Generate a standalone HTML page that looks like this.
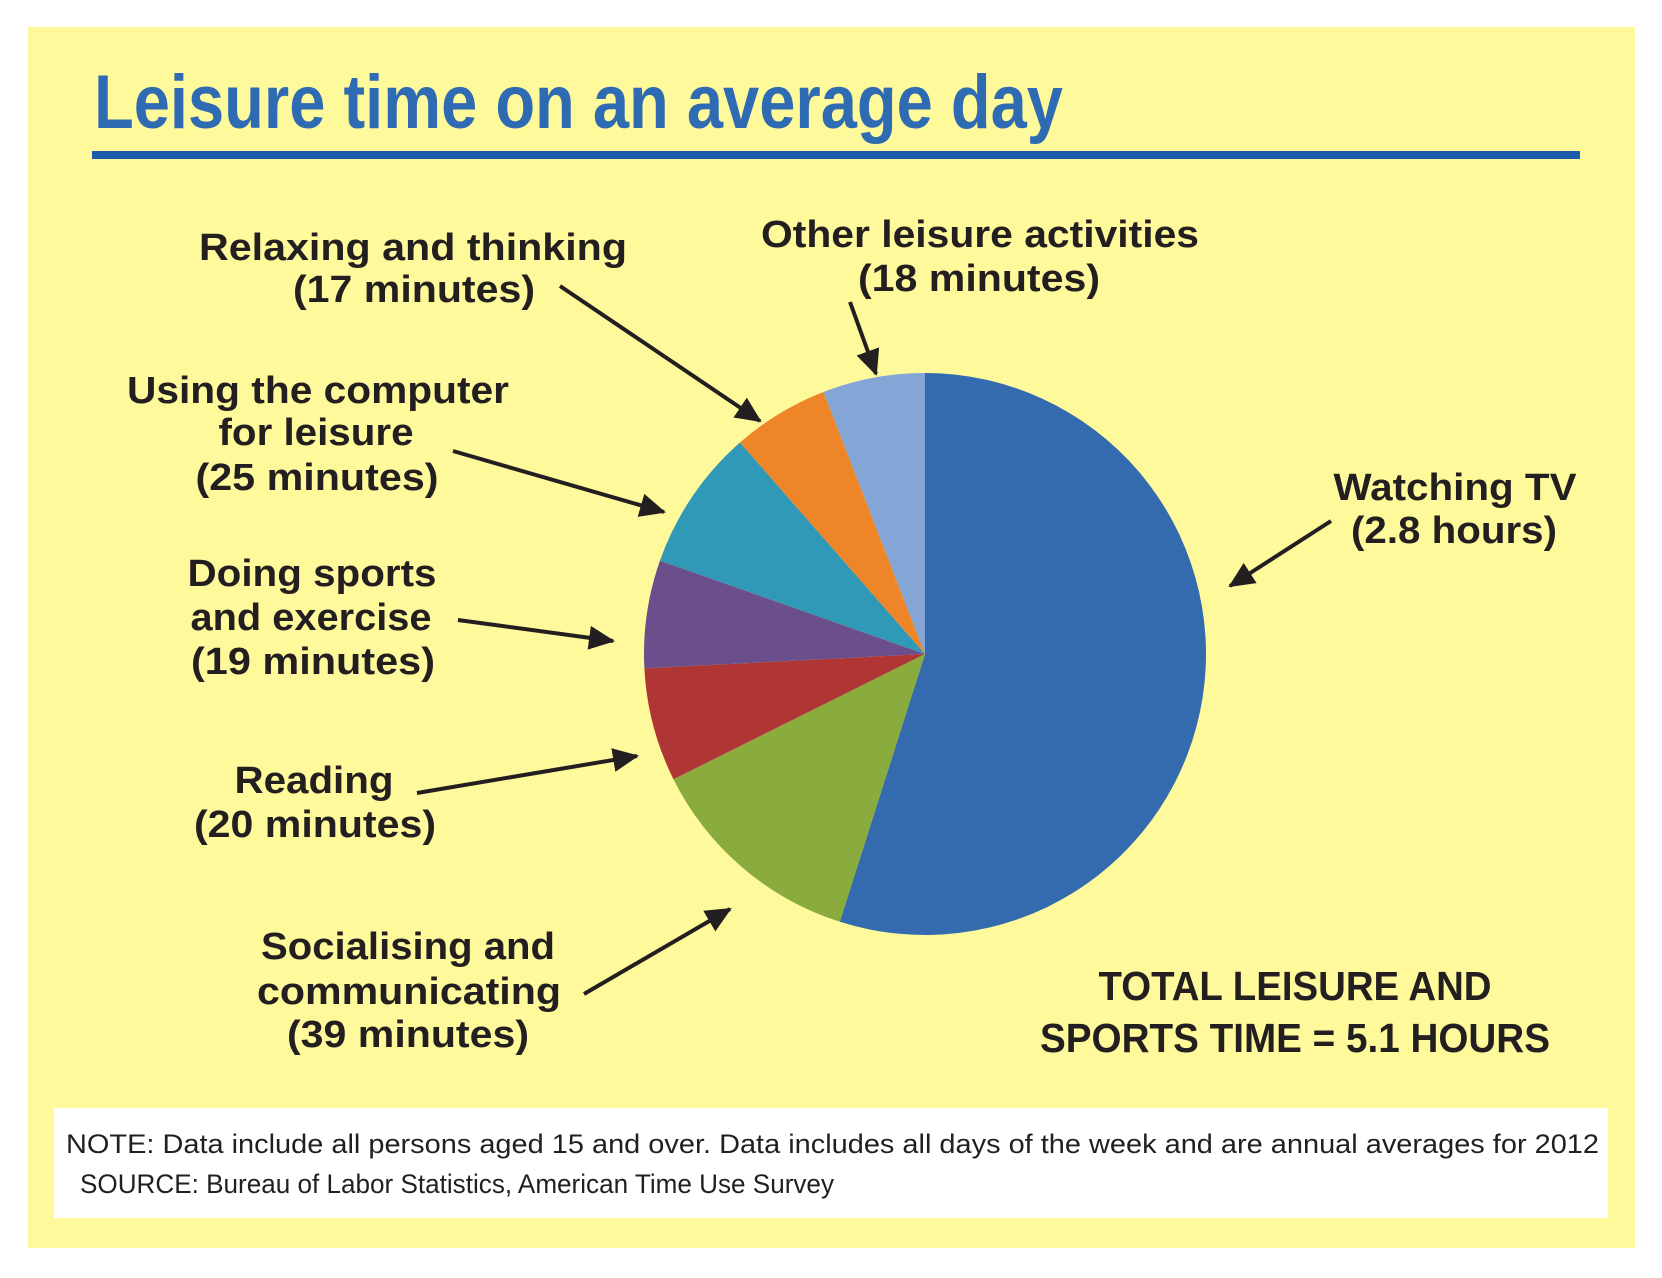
<!DOCTYPE html>
<html><head><meta charset="utf-8"><style>
html,body{margin:0;padding:0;background:#fff;}
svg{display:block;}
text{font-family:"Liberation Sans",sans-serif;font-weight:bold;fill:#231f20;}
</style></head><body>
<svg id="chart" width="1662" height="1278" viewBox="0 0 1662 1278">
<defs><marker id="ah" markerWidth="8" markerHeight="8" refX="7" refY="4" orient="auto" markerUnits="userSpaceOnUse" viewBox="0 0 8 8"><path d="M0,0 L8,4 L0,8 z" fill="#231f20"/></marker>
<marker id="ah2" markerWidth="26" markerHeight="24" refX="24" refY="12" orient="auto" markerUnits="userSpaceOnUse"><path d="M0,0 L26,12 L0,24 z" fill="#231f20"/></marker></defs>
<rect x="28" y="27" width="1607" height="1221" fill="#fef99b"/>
<text x="94" y="128" font-size="76" fill="#2f6bb3" style="fill:#2f6bb3" textLength="969" lengthAdjust="spacingAndGlyphs">Leisure time on an average day</text>
<rect x="92" y="151" width="1488" height="8" fill="#1d5cab"/>
<g id="pie"></g>
<g id="labels">
<text x="413" y="260" font-size="38" text-anchor="middle" textLength="428" lengthAdjust="spacingAndGlyphs">Relaxing and thinking</text>
<text x="414" y="302" font-size="38" text-anchor="middle" textLength="242" lengthAdjust="spacingAndGlyphs">(17 minutes)</text>
<text x="980" y="247" font-size="38" text-anchor="middle" textLength="438" lengthAdjust="spacingAndGlyphs">Other leisure activities</text>
<text x="979" y="291" font-size="38" text-anchor="middle" textLength="242" lengthAdjust="spacingAndGlyphs">(18 minutes)</text>
<text x="318" y="403" font-size="38" text-anchor="middle" textLength="382" lengthAdjust="spacingAndGlyphs">Using the computer</text>
<text x="316" y="445" font-size="38" text-anchor="middle" textLength="195" lengthAdjust="spacingAndGlyphs">for leisure</text>
<text x="317" y="490" font-size="38" text-anchor="middle" textLength="243" lengthAdjust="spacingAndGlyphs">(25 minutes)</text>
<text x="312" y="586" font-size="38" text-anchor="middle" textLength="249" lengthAdjust="spacingAndGlyphs">Doing sports</text>
<text x="311" y="630" font-size="38" text-anchor="middle" textLength="241" lengthAdjust="spacingAndGlyphs">and exercise</text>
<text x="313" y="674" font-size="38" text-anchor="middle" textLength="244" lengthAdjust="spacingAndGlyphs">(19 minutes)</text>
<text x="314" y="793" font-size="38" text-anchor="middle" textLength="159" lengthAdjust="spacingAndGlyphs">Reading</text>
<text x="315" y="837" font-size="38" text-anchor="middle" textLength="242" lengthAdjust="spacingAndGlyphs">(20 minutes)</text>
<text x="408" y="959" font-size="38" text-anchor="middle" textLength="294" lengthAdjust="spacingAndGlyphs">Socialising and</text>
<text x="409" y="1004" font-size="38" text-anchor="middle" textLength="304" lengthAdjust="spacingAndGlyphs">communicating</text>
<text x="408" y="1047" font-size="38" text-anchor="middle" textLength="242" lengthAdjust="spacingAndGlyphs">(39 minutes)</text>
<text x="1455" y="500" font-size="38" text-anchor="middle" textLength="243" lengthAdjust="spacingAndGlyphs">Watching TV</text>
<text x="1454" y="543" font-size="38" text-anchor="middle" textLength="206" lengthAdjust="spacingAndGlyphs">(2.8 hours)</text>
<text x="1295" y="1000" font-size="41" text-anchor="middle" textLength="393" lengthAdjust="spacingAndGlyphs">TOTAL LEISURE AND</text>
<text x="1295" y="1052" font-size="41" text-anchor="middle" textLength="510" lengthAdjust="spacingAndGlyphs">SPORTS TIME = 5.1 HOURS</text>
</g>
<g stroke="#231f20" stroke-width="4">
<line x1="560" y1="286" x2="760" y2="421" marker-end="url(#ah2)"/>
<line x1="850" y1="302" x2="876" y2="374" marker-end="url(#ah2)"/>
<line x1="453" y1="451" x2="664" y2="512" marker-end="url(#ah2)"/>
<line x1="458" y1="620" x2="613" y2="641" marker-end="url(#ah2)"/>
<line x1="417" y1="793" x2="637" y2="756" marker-end="url(#ah2)"/>
<line x1="584" y1="994" x2="730" y2="909" marker-end="url(#ah2)"/>
<line x1="1331" y1="521" x2="1230" y2="586" marker-end="url(#ah2)"/>
</g>
<rect x="54" y="1108" width="1554" height="110" fill="#ffffff"/>
<text x="66" y="1153" font-size="27" font-weight="normal" style="font-weight:normal" textLength="1533" lengthAdjust="spacingAndGlyphs">NOTE: Data include all persons aged 15 and over. Data includes all days of the week and are annual averages for 2012</text>
<text x="80" y="1193" font-size="27" font-weight="normal" style="font-weight:normal" textLength="754" lengthAdjust="spacingAndGlyphs">SOURCE: Bureau of Labor Statistics, American Time Use Survey</text>
</svg>
<script>
const categories = ["Watching TV","Socialising and communicating","Reading","Doing sports and exercise","Using the computer for leisure","Relaxing and thinking","Other leisure activities"];
const minutes = [168, 39, 20, 19, 25, 17, 18];
const colors = ["#346aae","#8aab3e","#b03535","#6b4f8c","#3199b8","#ee8529","#83a6d6"];
const cx = 925, cy = 654, r = 281;
const NS = "http://www.w3.org/2000/svg";
const pie = document.getElementById("pie");
const total = minutes.reduce((a,b)=>a+b,0);
function pt(frac){ const a = frac*2*Math.PI; return [cx + r*Math.sin(a), cy - r*Math.cos(a)]; }
let acc = 0;
minutes.forEach((m,i)=>{
  const f0 = acc/total, f1 = (acc+m)/total; acc += m;
  const p0 = pt(f0), p1 = pt(f1);
  const large = (f1-f0) > 0.5 ? 1 : 0;
  const path = document.createElementNS(NS,"path");
  path.setAttribute("d", `M${cx},${cy} L${p0[0]},${p0[1]} A${r},${r} 0 ${large} 1 ${p1[0]},${p1[1]} Z`);
  path.setAttribute("fill", colors[i]);
  
  
  pie.appendChild(path);
});
</script>
</body></html>
